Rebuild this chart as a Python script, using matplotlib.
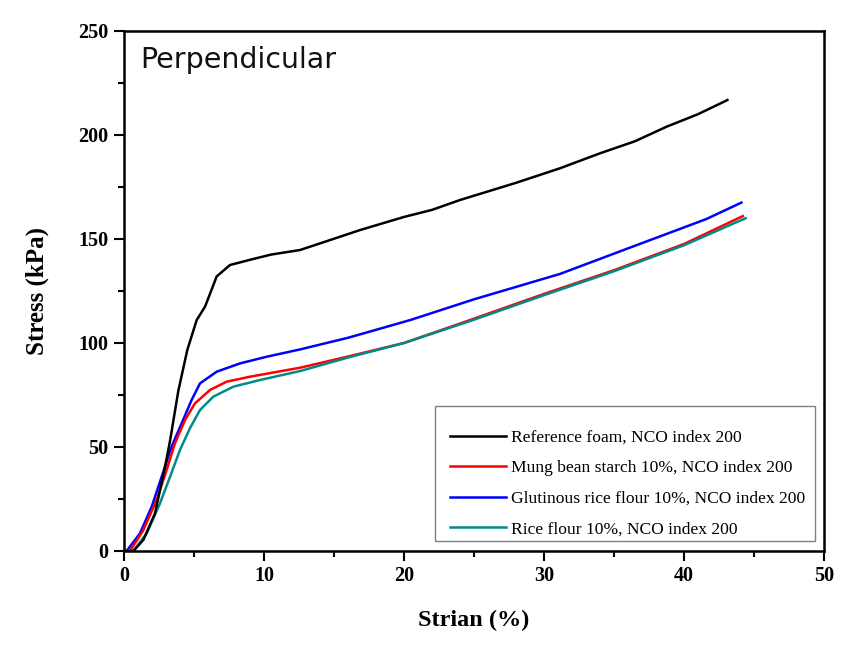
import matplotlib
matplotlib.use("Agg")
import matplotlib.pyplot as plt
from matplotlib.ticker import MultipleLocator
from matplotlib.patches import Rectangle

# ---- data ----
ref_x = [0, 0.67, 1.38, 2.21, 2.93, 3.29, 3.88, 4.52, 5.19, 5.79, 6.62, 7.57, 9.0, 10.5,
         12.57, 14.5, 16.86, 20.0, 22.0, 24.0, 28.0, 31.14, 34.0, 36.5, 38.76, 41.0, 43.1]
ref_y = [0, 0, 5.3, 18, 40.5, 53, 77, 96.6, 111, 117.5, 132, 137.5, 140, 142.5,
         144.7, 149, 154.3, 160.6, 164, 168.75, 177, 184, 191.2, 197, 204, 210, 216.8]

mung_x = [0, 0.43, 1.38, 2.33, 3.05, 3.64, 4.36, 5.07, 6.14, 7.33, 9.0, 12.57,
          16.0, 20.0, 24.7, 30.0, 35.0, 40.0, 44.2]
mung_y = [0, 0, 10, 24.5, 39, 51.8, 63, 71, 77.4, 81.4, 83.8, 88.1,
          93.5, 100, 111, 123.6, 135, 147.6, 161]

glut_x = [0, 0.19, 1.14, 1.98, 2.69, 3.40, 4.12, 4.83, 5.43, 6.62, 8.29, 10.19, 12.57,
          16.0, 20.43, 25.0, 31.14, 36.0, 41.6, 44.1]
glut_y = [0, 0, 8.5, 21.3, 35.7, 50.2, 61.4, 72.6, 80.6, 86.2, 90.2, 93.4, 96.9,
          102.5, 111, 121, 133.2, 145.5, 159.6, 167.5]

rice_x = [0, 0.67, 1.62, 2.57, 3.29, 4.0, 4.71, 5.43, 6.38, 7.81, 9.71, 12.57,
          16.0, 20.0, 24.7, 30.0, 35.0, 40.0, 44.4]
rice_y = [0, 0, 8.5, 22.9, 35.7, 48.6, 59, 67.8, 74.2, 79, 82.2, 86.5,
          93, 100, 110.5, 123, 134.5, 147, 160]

labels = ["Reference foam, NCO index 200",
          "Mung bean starch 10%, NCO index 200",
          "Glutinous rice flour 10%, NCO index 200",
          "Rice flour 10%, NCO index 200"]
colors = ["#000000", "#ff0000", "#0000ff", "#008b8b"]

x_ticks = [0, 10, 20, 30, 40, 50]
y_ticks = [0, 50, 100, 150, 200, 250]

# ---- figure ----
fig = plt.figure(figsize=(8.43, 6.46), dpi=100)
ax = fig.add_axes([124 / 843, 95 / 646, 700 / 843, 520 / 646])

series = [(ref_x, ref_y), (mung_x, mung_y), (glut_x, glut_y), (rice_x, rice_y)]
order = [2, 1, 3, 0]
handles = {}
for i in order:
    xs, ys = series[i]
    h, = ax.plot(xs, ys, color=colors[i], lw=1.8, label=labels[i])
    handles[i] = h

ax.set_xlim(0, 50)
ax.set_ylim(0, 250)
ax.set_xticks(x_ticks)
ax.set_yticks(y_ticks)
ax.xaxis.set_minor_locator(MultipleLocator(5))
ax.yaxis.set_minor_locator(MultipleLocator(25))

serif = ["Liberation Serif", "DejaVu Serif"]
ax.tick_params(which="major", direction="out", length=7, width=1.5,
               top=False, right=False, pad=4)
ax.tick_params(which="minor", direction="out", length=4, width=1.5,
               top=False, right=False)
for lab in ax.get_xticklabels() + ax.get_yticklabels():
    lab.set_fontfamily(serif)
    lab.set_fontweight("bold")
    lab.set_fontsize(14.5)
for sp in ax.spines.values():
    sp.set_linewidth(1.8)

ax.set_xlabel("Strian (%)", fontfamily=serif, fontweight="bold", fontsize=17.5, labelpad=17)
ax.set_ylabel("Stress (kPa)", fontfamily=serif, fontweight="bold", fontsize=18, labelpad=21)

# legend (frame drawn separately to get wider horizontal padding)
pad_left_px, pad_right_px = 11.5, 6.5
leg = ax.legend([handles[i] for i in range(4)], labels, loc="lower right",
                bbox_to_anchor=(1 - (9 + pad_right_px) / 700, 0.019), borderaxespad=0.0,
                frameon=False, handlelength=3.2,
                labelspacing=0.82, borderpad=0.2, handletextpad=0.25,
                title=" ", title_fontsize=5,
                prop={"family": serif, "size": 12.6})
leg.set_zorder(6)

fig.canvas.draw()
bb = leg.get_window_extent().transformed(ax.transAxes.inverted())
axw, axh = 700.0, 520.0
rect = Rectangle((bb.x0 - pad_left_px / axw, bb.y0),
                 bb.width + (pad_left_px + pad_right_px) / axw, bb.height,
                 transform=ax.transAxes, facecolor="white", edgecolor="#808080",
                 linewidth=1.0, zorder=5.5, clip_on=False)
ax.add_patch(rect)

ax.text(0.023, 0.929, "Perpendicular", transform=ax.transAxes, ha="left", va="baseline",
        fontsize=20.5, fontfamily=["DejaVu Sans"], color="#111111",
        bbox=dict(facecolor="white", edgecolor="none", pad=4))

fig.savefig("out.png", dpi=100)
